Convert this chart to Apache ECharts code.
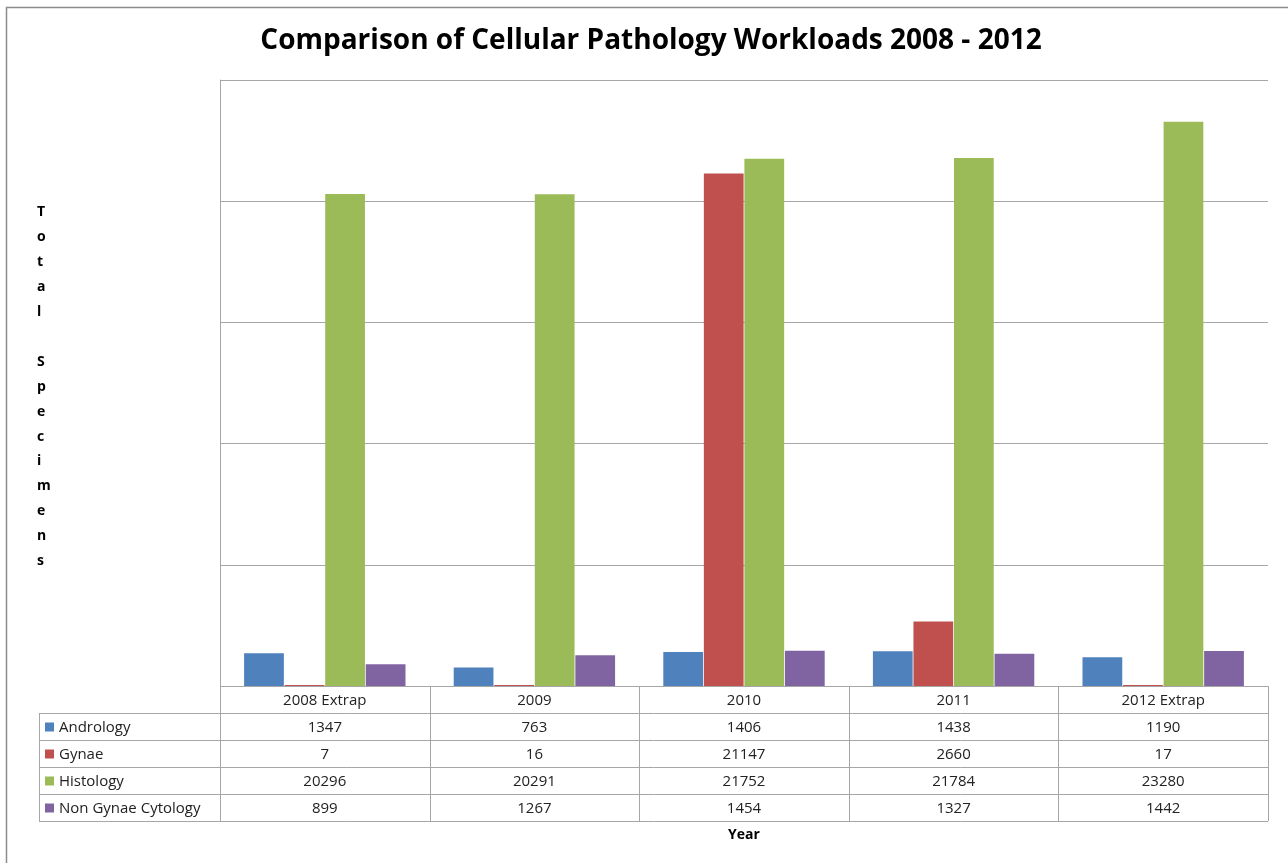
<!DOCTYPE html>
<html>
<head>
<meta charset="utf-8">
<script src="https://cdn.jsdelivr.net/npm/echarts@6/dist/echarts.min.js"></script>
<style>
html,body{margin:0;padding:0;background:#fff;}
#main{width:1288px;height:863px;}
</style>
</head>
<body>
<div id="main"></div>
<script>
const categories = ['2008 Extrap', '2009', '2010', '2011', '2012 Extrap'];
const seriesNames = ['Andrology', 'Gynae', 'Histology', 'Non Gynae Cytology'];
const andrology = [1347, 763, 1406, 1438, 1190];
const gynae = [7, 16, 21147, 2660, 17];
const histology = [20296, 20291, 21752, 21784, 23280];
const nonGynae = [899, 1267, 1454, 1327, 1442];
const colors = ['#4F81BD', '#C0504D', '#9BBB59', '#8064A2'];
const yTicks = [0, 5000, 10000, 15000, 20000, 25000];

const seriesData = [andrology, gynae, histology, nonGynae];
const W = 1288, H = 863;
const gridLeft = 220, gridRight = 1268, gridTop = 80, gridBottom = 686;
const rowH = 27;
const tableLeft = 39;
const fontFam = '"Open Sans", "Noto Sans", sans-serif';

const chart = echarts.init(document.getElementById('main'), null, {renderer: 'canvas'});

const graphics = [];
// outer chart border
graphics.push({type: 'rect', shape: {x: 6.5, y: 7.5, width: 1300, height: 900},
  style: {fill: null, stroke: '#8c8c8c', lineWidth: 1.5}, silent: true});
// y axis title, stacked letters
graphics.push({type: 'text', left: 37, top: 200,
  style: {text: 'Total Specimens'.split('').join('\n'), font: 'bold 14px ' + fontFam,
    fill: '#000', lineHeight: 24.9, align: 'center'}});
// x axis title
graphics.push({type: 'text', x: 744, y: 835, style: {text: 'Year', font: 'bold 14px ' + fontFam,
  fill: '#000', align: 'center', verticalAlign: 'middle'}});

// table lines
const colW = (gridRight - gridLeft) / categories.length;
const lineStyle = {stroke: '#a6a6a6', lineWidth: 1};
const tBottom = gridBottom + rowH * (seriesNames.length + 1);
for (let i = 0; i <= categories.length; i++) {
  const x = Math.round(gridLeft + i * colW) + 0.5;
  graphics.push({type: 'line', shape: {x1: x, y1: gridBottom, x2: x, y2: tBottom}, style: lineStyle, silent: true});
}
graphics.push({type: 'line', shape: {x1: tableLeft + 0.5, y1: gridBottom + rowH, x2: tableLeft + 0.5, y2: tBottom}, style: lineStyle, silent: true});
graphics.push({type: 'line', shape: {x1: gridLeft, y1: gridBottom + 0.5, x2: gridRight, y2: gridBottom + 0.5}, style: lineStyle, silent: true});
for (let r = 1; r <= seriesNames.length + 1; r++) {
  const y = gridBottom + r * rowH + 0.5;
  graphics.push({type: 'line', shape: {x1: tableLeft, y1: y, x2: gridRight, y2: y}, style: lineStyle, silent: true});
}
// header + cells
for (let i = 0; i < categories.length; i++) {
  graphics.push({type: 'text', x: gridLeft + (i + 0.5) * colW, y: gridBottom + rowH / 2 + 1,
    style: {text: categories[i], font: '15px ' + fontFam, fill: '#222', align: 'center', verticalAlign: 'middle'}});
}
for (let s = 0; s < seriesNames.length; s++) {
  const cy = gridBottom + (s + 1.5) * rowH + 1;
  graphics.push({type: 'rect', shape: {x: 45, y: cy - 5, width: 9, height: 9}, style: {fill: colors[s]}, silent: true});
  graphics.push({type: 'text', x: 59, y: cy, style: {text: seriesNames[s], font: '15px ' + fontFam,
    fill: '#222', align: 'left', verticalAlign: 'middle'}});
  for (let i = 0; i < categories.length; i++) {
    graphics.push({type: 'text', x: gridLeft + (i + 0.5) * colW, y: cy,
      style: {text: String(seriesData[s][i]), font: '15px ' + fontFam, fill: '#222', align: 'center', verticalAlign: 'middle'}});
  }
}

chart.setOption({
  backgroundColor: '#fff',
  animation: false,
  title: {text: 'Comparison of Cellular Pathology Workloads 2008 - 2012', left: 646, textAlign: 'center', top: 22,
    textStyle: {fontFamily: fontFam, fontWeight: 'bold', fontSize: 28, color: '#000'}},
  grid: {left: gridLeft, right: W - gridRight, top: gridTop, bottom: H - gridBottom, containLabel: false},
  xAxis: {type: 'category', data: categories, axisLine: {show: false}, axisTick: {show: false},
    axisLabel: {show: false}, splitLine: {show: false}},
  yAxis: {type: 'value', min: yTicks[0], max: yTicks[yTicks.length - 1], interval: yTicks[1] - yTicks[0],
    axisLabel: {show: false}, axisTick: {show: false},
    axisLine: {show: true, lineStyle: {color: '#a6a6a6', width: 1}},
    splitLine: {show: true, lineStyle: {color: '#a6a6a6', width: 1}}},
  series: seriesNames.map((n, s) => ({
    name: n, type: 'bar', data: seriesData[s], barGap: '2%', barCategoryGap: '23%', barMinHeight: 1,
    itemStyle: {color: colors[s]}
  })),
  graphic: graphics
});
</script>
</body>
</html>
